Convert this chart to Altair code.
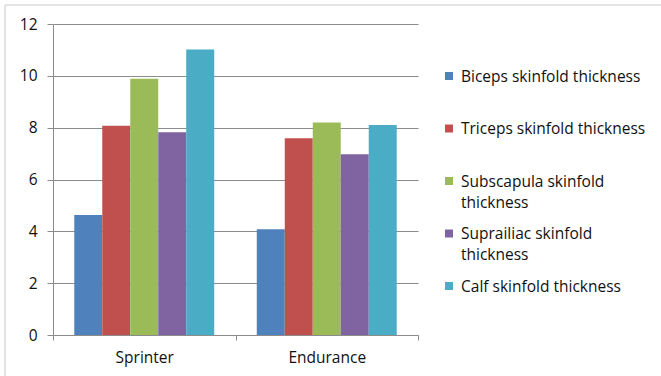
import altair as alt
import pandas as pd

# Skinfold thickness by athlete group
groups = ["Sprinter", "Endurance"]
series = [
    "Biceps skinfold thickness",
    "Triceps skinfold thickness",
    "Subscapula skinfold thickness",
    "Suprailiac skinfold thickness",
    "Calf skinfold thickness",
]
legend_labels = [
    "Biceps skinfold thickness",
    "Triceps skinfold thickness",
    "Subscapula skinfold\nthickness",
    "Suprailiac skinfold\nthickness",
    "Calf skinfold thickness",
]
sprinter = [4.63, 8.07, 9.89, 7.82, 11.02]
endurance = [4.08, 7.59, 8.2, 6.97, 8.1]
colors = ["#4F81BD", "#C0504D", "#9BBB59", "#8064A2", "#4BACC6"]
y_ticks = [0, 2, 4, 6, 8, 10, 12]

FONT = "Open Sans"
FONT_SIZE = 15.5
TEXT = "#111111"
GRID = "#8c8c8c"

rows = []
for g, vals in zip(groups, [sprinter, endurance]):
    for s, v in zip(series, vals):
        rows.append({"group": g, "series": s, "value": v})
df = pd.DataFrame(rows)

legend_df = pd.DataFrame({
    "series": series,
    "label": legend_labels,
    "row": list(range(len(series))),
})

color_scale = alt.Scale(domain=series, range=colors)

bars = alt.Chart(df).mark_bar().encode(
    x=alt.X(
        "group:N",
        sort=groups,
        title=None,
        scale=alt.Scale(paddingInner=0, paddingOuter=0),
        axis=alt.Axis(
            labelAngle=0, tickBand="extent", grid=False,
            domainColor=GRID, tickColor=GRID, tickSize=5,
            labelPadding=10, labelFont=FONT, labelFontSize=FONT_SIZE, labelColor=TEXT,
        ),
    ),
    xOffset=alt.XOffset(
        "series:N", sort=series,
        scale=alt.Scale(paddingInner=0, paddingOuter=0.76),
    ),
    y=alt.Y(
        "value:Q",
        title=None,
        scale=alt.Scale(domain=[0, 12], nice=False),
        axis=alt.Axis(
            values=y_ticks, grid=True, gridColor=GRID,
            domainColor=GRID, tickColor=GRID, tickSize=6,
            labelPadding=10, labelFont=FONT, labelFontSize=FONT_SIZE, labelColor=TEXT,
        ),
    ),
    color=alt.Color("series:N", scale=color_scale, legend=None),
)

legend_y = alt.Y("row:Q", scale=alt.Scale(domain=[0, 4], range=[52, 262]), axis=None)

swatches = alt.Chart(legend_df).mark_square(size=64, opacity=1).encode(
    x=alt.value(396),
    y=legend_y,
    color=alt.Color("series:N", scale=color_scale, legend=None),
)

labels = alt.Chart(legend_df).mark_text(
    align="left", baseline="alphabetic", dy=5.5, lineBreak="\n", lineHeight=21,
    font=FONT, fontSize=FONT_SIZE, color=TEXT,
).encode(
    x=alt.value(408),
    y=legend_y,
    text="label:N",
)

frame_df = pd.DataFrame({"k": [0]})
frame_left = alt.Chart(frame_df).mark_rule(color="#c8c8c8", strokeWidth=1).encode(
    x=alt.value(-48), y=alt.value(-19), y2=alt.value(352),
)
frame_top = alt.Chart(frame_df).mark_rule(color="#c8c8c8", strokeWidth=1).encode(
    x=alt.value(-48), x2=alt.value(608), y=alt.value(-19),
)

chart = alt.layer(
    bars, swatches, labels, frame_left, frame_top
).resolve_scale(y="independent").properties(
    width=365,
    height=311,
    padding={"left": 53, "top": 24, "right": 243, "bottom": 41},
    autosize=alt.AutoSizeParams(type="none"),
    background="white",
).configure_view(stroke=None)

chart.save("out.html", embed_options={"renderer": "svg", "actions": False})
